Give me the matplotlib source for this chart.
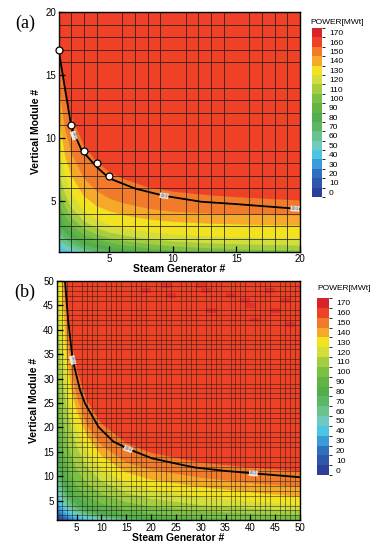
import numpy as np
import matplotlib
matplotlib.use("Agg")
import matplotlib.pyplot as plt
from matplotlib.colors import ListedColormap, BoundaryNorm
from matplotlib.cm import ScalarMappable

plt.rcParams['font.family'] = ['Liberation Sans', 'DejaVu Sans']

# legend levels and their band colours
LEVELS = list(range(0, 180, 10))
LEVEL_COLORS = ['#2e3f99', '#2d57a9', '#2f6fc0', '#3b9ad8', '#4ec4e4', '#6dcbc0',
                '#6bc38c', '#5cb765', '#52ae4b', '#62b446', '#7cc043', '#a6cd40',
                '#d4de3a', '#f3e21f', '#f6a82a', '#f17a2b', '#ee4126', '#d9232a']

# ---- panel (a): band boundaries (vertical module # at each steam generator #)
S_A = [1, 1.5, 2, 3, 4, 5, 6, 8, 10, 13, 16, 20]
A_160 = [17.3, 13.5, 11.7, 9.4, 8.1, 7.3, 6.8, 6.1, 5.75, 5.45, 5.25, 5.05]
A_150 = [14.2, 10.8, 8.8, 6.8, 5.8, 5.2, 4.85, 4.4, 4.15, 4.0, 3.92, 3.86]
A_140 = [11.8, 8.6, 7.0, 5.4, 4.6, 4.2, 3.9, 3.55, 3.35, 3.2, 3.12, 3.06]
A_130 = [9.3, 7.0, 5.6, 4.2, 3.55, 3.1, 2.85, 2.55, 2.35, 2.2, 2.1, 2.03]
A_120 = [7.3, 5.6, 4.5, 3.4, 2.85, 2.5, 2.3, 2.0, 1.8, 1.65, 1.55, 1.48]
A_110 = [5.9, 4.6, 3.7, 2.8, 2.35, 2.05, 1.85, 1.6, 1.4, 1.25, 1.15, 1.08]
A_100 = [4.8, 3.8, 3.1, 2.3, 1.95, 1.7, 1.5, 1.25, 1.05, 0.9, 0.8, 0.7]
A_90 = [3.9, 3.1, 2.55, 1.9, 1.6, 1.35, 1.2, 0.95, 0.8, 0.7, 0.6, 0.5]
A_80 = [3.1, 2.5, 2.05, 1.5, 1.25, 1.05, 0.95, 0.8, 0.7, 0.6, 0.5, 0.5]
A_70 = [2.5, 2.0, 1.65, 1.2, 0.95, 0.85, 0.8, 0.7, 0.6, 0.5, 0.5, 0.5]
A_60 = [1.95, 1.55, 1.3, 0.95, 0.8, 0.7, 0.6, 0.5, 0.5, 0.5, 0.5, 0.5]
A_50 = [1.45, 1.15, 0.95, 0.8, 0.7, 0.6, 0.5, 0.5, 0.5, 0.5, 0.5, 0.5]
A_40 = [0.95, 0.8, 0.7, 0.6, 0.5, 0.5, 0.5, 0.5, 0.5, 0.5, 0.5, 0.5]

A_LINE_S = [1, 2, 2.8, 4, 5, 7, 9.3, 12.2, 15, 20]
A_LINE_V = [17, 10.9, 9.05, 7.7, 6.8, 6.0, 5.42, 4.95, 4.76, 4.37]
A_PTS_S = [1, 2, 3, 4, 5]
A_PTS_V = [17, 11, 9, 8, 7]

# ---- panel (b)
S_B = [1, 1.5, 2, 3, 4, 5, 7, 10, 15, 20, 30, 40, 50]
B_160 = [200, 120, 70, 47, 37.5, 32, 25.5, 20.8, 16.8, 14.8, 12.8, 11.8, 11.0]
B_150 = [130, 85, 58, 40, 31, 26.5, 20.5, 16.3, 12.8, 11.3, 9.7, 8.6, 7.8]
B_140 = [90, 62, 49, 34, 27.5, 23.5, 18.5, 14.2, 10.8, 9.3, 7.8, 6.7, 5.8]
B_130 = [60, 48, 40, 28.5, 23, 19.5, 15, 11.5, 8.6, 7.2, 5.8, 4.8, 4.1]
B_120 = [48, 38, 31, 24, 19.5, 16, 12, 9.0, 6.6, 5.4, 4.1, 3.4, 2.9]
B_110 = [34, 28, 23.5, 17.5, 14, 11.5, 8.6, 6.4, 4.7, 3.8, 2.9, 2.35, 1.95]
B_100 = [26, 20.5, 17, 12.3, 9.8, 8.0, 6.0, 4.4, 3.1, 2.4, 1.55, 1.2, 0.95]
B_90 = [20, 15.5, 12.6, 9.0, 7.1, 5.8, 4.3, 3.1, 2.1, 1.6, 1.1, 0.9, 0.8]
B_80 = [15, 11.6, 9.5, 6.7, 5.2, 4.2, 3.1, 2.2, 1.45, 1.05, 0.8, 0.7, 0.6]
B_70 = [12, 9.3, 7.7, 5.4, 4.2, 3.4, 2.45, 1.7, 1.1, 0.85, 0.6, 0.5, 0.5]
B_60 = [9, 7.0, 5.8, 4.1, 3.2, 2.6, 1.85, 1.3, 0.9, 0.7, 0.5, 0.5, 0.5]
B_50 = [7, 5.4, 4.4, 3.1, 2.4, 1.95, 1.4, 1.0, 0.7, 0.6, 0.5, 0.5, 0.5]
B_40 = [5, 3.9, 3.2, 2.2, 1.7, 1.4, 1.0, 0.75, 0.6, 0.5, 0.5, 0.5, 0.5]
B_30 = [3.6, 2.8, 2.3, 1.6, 1.2, 1.0, 0.75, 0.6, 0.5, 0.5, 0.5, 0.5, 0.5]
B_20 = [2.5, 1.95, 1.6, 1.1, 0.85, 0.7, 0.6, 0.5, 0.5, 0.5, 0.5, 0.5, 0.5]
B_10 = [1.6, 1.3, 1.05, 0.8, 0.6, 0.5, 0.5, 0.5, 0.5, 0.5, 0.5, 0.5, 0.5]

B_LINE_S = [2.65, 3.3, 4.2, 5.7, 6.7, 9.4, 12.4, 15.4, 20.1, 25, 28.8, 34.9, 40.6, 50]
B_LINE_V = [50, 41.9, 33.8, 27.6, 24.9, 20.1, 17.1, 15.6, 13.7, 12.6, 11.8, 11.1, 10.6, 9.8]

# scattered cells above 170 near the top of panel (b)
B_HOT_S = [19, 23, 24, 30, 31, 32, 36, 39, 40, 41, 44, 45, 47, 48]
B_HOT_V = [48, 49, 47, 49, 48, 44, 47, 46, 45, 42, 48, 44, 46, 41]

W, H = 371, 545
fig = plt.figure(figsize=(W / 100, H / 100), dpi=100)


def box(x0, y0, x1, y1):
    # pixel box (top-left origin) -> figure fraction
    return [x0 / W, 1 - y1 / H, (x1 - x0) / W, (y1 - y0) / H]


def draw_map(ax, s, bands, base, smax, step, line_s, line_v, lbls, lw_grid, a_grid):
    s = np.asarray(s)
    ax.fill_between([0, smax + 1], 0, 1000, color=LEVEL_COLORS[LEVELS.index(base)], lw=0)
    for lvl, b in bands:
        ax.fill_between(s, b, 1000, color=LEVEL_COLORS[LEVELS.index(lvl)], lw=0)
    ax.plot(line_s, line_v, color='black', lw=1.3, zorder=4)
    for (x, y, rot) in lbls:
        ax.text(x, y, '160', fontsize=3.5, color='#777777', rotation=rot,
                ha='center', va='center', zorder=5,
                bbox=dict(facecolor='white', edgecolor='none', alpha=0.85, pad=0.2))
    ax.set_xlim(1, smax)
    ax.set_ylim(1, smax)
    ticks = np.arange(step, smax + 1, step)
    ax.set_xticks(ticks)
    ax.set_yticks(ticks)
    ax.set_xticks(np.arange(1, smax + 1), minor=True)
    ax.set_yticks(np.arange(1, smax + 1), minor=True)
    ax.grid(which='minor', color='#1a1a1a', lw=lw_grid, alpha=a_grid)
    ax.set_axisbelow(False)
    ax.tick_params(which='major', direction='in', length=4, width=0.9,
                   labelsize=7, pad=2)
    ax.tick_params(which='minor', length=0)
    for sp in ax.spines.values():
        sp.set_linewidth(1.0)
    ax.set_xlabel('Steam Generator #', fontsize=7.5, fontweight='bold', labelpad=0)
    ax.set_ylabel('Vertical Module #', fontsize=7.5, fontweight='bold', labelpad=3)


def draw_legend(cax, title_xy):
    cmap = ListedColormap(LEVEL_COLORS)
    bounds = np.arange(0, 190, 10)
    norm = BoundaryNorm(bounds, cmap.N)
    cb = fig.colorbar(ScalarMappable(norm=norm, cmap=cmap), cax=cax,
                      ticks=np.array(LEVELS) + 5)
    cb.ax.set_yticklabels([str(v) for v in LEVELS])
    cb.outline.set_visible(False)
    cb.ax.tick_params(length=0, labelsize=6, pad=5)
    fig.text(title_xy[0] / W, 1 - title_xy[1] / H, 'POWER[MWt]', fontsize=6,
             ha='left', va='center')


# panel (a)
ax_a = fig.add_axes(box(58.6, 12, 300, 251.5))
bands_a = [(40, A_40), (50, A_50), (60, A_60), (70, A_70), (80, A_80), (90, A_90),
           (100, A_100), (110, A_110), (120, A_120), (130, A_130), (140, A_140),
           (150, A_150), (160, A_160)]
draw_map(ax_a, S_A, bands_a, 30, 20, 5, A_LINE_S, A_LINE_V,
         [(2.2, 10.2, -72), (9.3, 5.42, -8), (19.6, 4.4, -3)], 0.7, 0.75)
ax_a.plot(A_PTS_S, A_PTS_V, 'o', ms=5, mfc='white', mec='black', mew=0.9,
          zorder=6, clip_on=False)
fig.text(25 / W, 1 - 23 / H, '(a)', fontsize=13, family='Liberation Serif',
         ha='center', va='center')
draw_legend(fig.add_axes(box(312, 28, 322, 197)), (310, 22))

# panel (b)
ax_b = fig.add_axes(box(56.8, 281, 300, 520.2))
bands_b = [(10, B_10), (20, B_20), (30, B_30), (40, B_40), (50, B_50), (60, B_60),
           (70, B_70), (80, B_80), (90, B_90), (100, B_100), (110, B_110),
           (120, B_120), (130, B_130), (140, B_140), (150, B_150), (160, B_160)]
draw_map(ax_b, S_B, bands_b, 0, 50, 5, B_LINE_S, B_LINE_V,
         [(4.2, 33.8, -75), (15.4, 15.6, -20), (40.6, 10.6, -5)], 0.5, 0.7)
ax_b.bar(B_HOT_S, 1.0, width=2.0, bottom=np.array(B_HOT_V) - 0.5,
         color=LEVEL_COLORS[-1], alpha=0.55, lw=0, zorder=1.5)
fig.text(25 / W, 1 - 292 / H, '(b)', fontsize=13, family='Liberation Serif',
         ha='center', va='center')
draw_legend(fig.add_axes(box(317, 298, 329, 475)), (317, 288))

fig.savefig('out.png', dpi=100)
